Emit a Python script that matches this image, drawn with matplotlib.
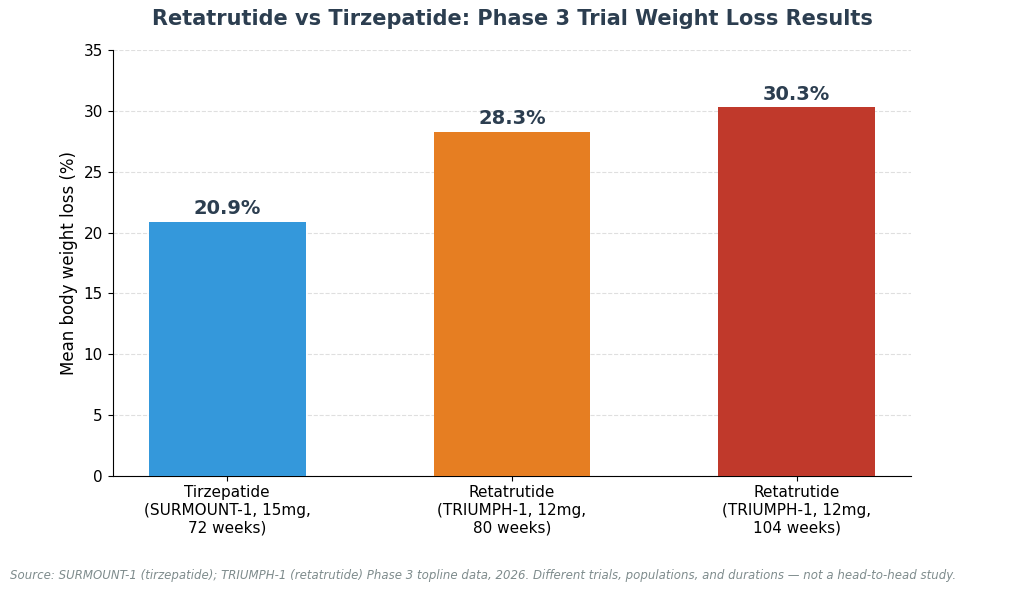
import matplotlib
matplotlib.use("Agg")
import matplotlib.pyplot as plt

categories = ["Tirzepatide\n(SURMOUNT-1, 15mg,\n72 weeks)",
              "Retatrutide\n(TRIUMPH-1, 12mg,\n80 weeks)",
              "Retatrutide\n(TRIUMPH-1, 12mg,\n104 weeks)"]
values = [20.9, 28.3, 30.3]
colors = ["#3498db", "#e67e22", "#c0392b"]

fig = plt.figure(figsize=(10.24, 5.91), dpi=100)
ax = fig.add_axes([0.11, 0.195, 0.78, 0.72])
x = range(len(values))
ax.bar(x, values, width=0.55, color=colors, zorder=3)
for i, v in enumerate(values):
    ax.text(i, v + 0.3, f"{v}%", ha="center", va="bottom", fontsize=14,
            fontweight="bold", color="#2c3e50")
ax.set_xticks(list(x))
ax.set_xticklabels(categories, fontsize=11)
ax.set_ylim(0, 35)
ax.set_yticks(range(0, 36, 5))
ax.tick_params(axis="y", labelsize=11)
ax.set_ylabel("Mean body weight loss (%)", fontsize=12)
ax.yaxis.grid(True, linestyle="--", alpha=0.4, zorder=0)
ax.spines["top"].set_visible(False)
ax.spines["right"].set_visible(False)
fig.suptitle("Retatrutide vs Tirzepatide: Phase 3 Trial Weight Loss Results",
             fontsize=15, fontweight="bold", color="#2c3e50", y=0.985)
fig.text(0.01, 0.02, "Source: SURMOUNT-1 (tirzepatide); TRIUMPH-1 (retatrutide) Phase 3 topline data, 2026. Different trials, populations, and durations \u2014 not a head-to-head study.",
         fontsize=8.5, style="italic", color="#7f8c8d")
fig.savefig("out.png", dpi=100)
